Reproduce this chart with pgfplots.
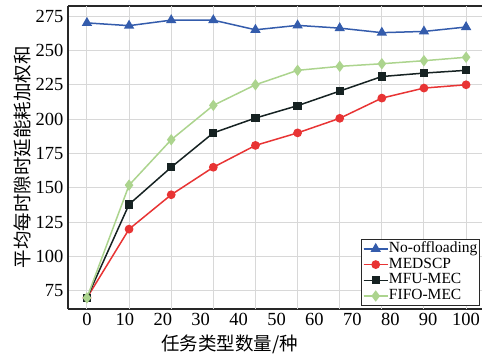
\documentclass[border=0pt]{standalone}
\usepackage{fontspec}
\setmainfont{Liberation Serif}
\newfontfamily\cjk{Noto Sans CJK SC}
\usepackage{pgfplots}
\pgfplotsset{compat=1.18}
\usetikzlibrary{calc}
\definecolor{cblue}{RGB}{52,92,172}
\definecolor{cred}{RGB}{232,52,52}
\definecolor{cblack}{RGB}{22,34,34}
\definecolor{cgreen}{RGB}{172,212,142}
\definecolor{cgrid}{RGB}{216,216,216}
\definecolor{caxis}{RGB}{40,40,40}
\begin{document}
\begin{tikzpicture}
\begin{axis}[
  name=ax,
  scale only axis,
  width=414pt, height=303pt,
  xmin=-5, xmax=104.2,
  ymin=61.9, ymax=282.3,
  axis x line*=box,
  axis y line*=left,
  axis line style={caxis, line width=1.3pt},
  xtick={0,10,...,100},
  ytick={75,100,...,275},
  major tick length=0pt,
  ymajorgrids=true,
  extra x ticks={0,11.11,22.22,33.33,44.44,55.56,66.67,77.78,88.89,100},
  extra x tick labels={},
  extra x tick style={grid=major, major tick length=0pt},
  grid style={cgrid, line width=1pt},
  /pgf/number format/assume math mode=true,
  tick label style={font=\fontsize{18.5}{19}\selectfont},
  xticklabel style={yshift=-1pt},
  yticklabel style={xshift=-1pt},
  xlabel={\cjk 任务类型数量/种},
  xlabel style={font=\fontsize{18.5}{20}\selectfont, at={(axis description cs:0.39,0)}, anchor=north, yshift=-22pt},
  ylabel={\cjk 平均每时隙时延能耗加权和},
  ylabel style={font=\fontsize{18.5}{20}\selectfont, at={(axis description cs:-0.109,0.5)}, anchor=center},
  legend style={at={(axis description cs:0.9952,0.01)}, anchor=south east,
    draw=caxis, line width=1.3pt, font=\fontsize{15.5}{15.5}\selectfont,
    inner sep=1.5pt,
    nodes={inner sep=0.5pt, text height=11pt, text depth=3.7pt}},
  legend cell align=left,
  legend image post style={line width=1.5pt},
  legend image code/.code={\draw[#1] (0pt,0pt) -- (24pt,0pt); \draw[#1, mark repeat=2, mark phase=2] plot coordinates {(0pt,0pt) (12pt,0pt) (24pt,0pt)};},
]
\addplot[cblue, line width=1.5pt, mark=triangle*, mark size=4.5pt, mark options={solid}] coordinates {
(0,270) (11.11,268) (22.22,272) (33.33,272) (44.44,265) (55.56,268.2) (66.67,266.2) (77.78,262.9) (88.89,263.8) (100,267)};
\addlegendentry{No-offloading}
\addplot[cred, line width=1.5pt, mark=*, mark size=3.6pt] coordinates {
(0,70) (11.11,120) (22.22,145) (33.33,165) (44.44,180.9) (55.56,190) (66.67,200.6) (77.78,215.3) (88.89,222.6) (100,225)};
\addlegendentry{MEDSCP}
\addplot[cblack, line width=1.5pt, mark=square*, mark size=3.4pt] coordinates {
(0,70) (11.11,138) (22.22,165) (33.33,190) (44.44,200.8) (55.56,209.8) (66.67,220.4) (77.78,231) (88.89,233.5) (100,235.5)};
\addlegendentry{MFU-MEC}
\addplot[cgreen, line width=1.5pt, mark=diamond*, mark size=4.5pt] coordinates {
(0,70) (11.11,152) (22.22,185) (33.33,210) (44.44,225) (55.56,235.5) (66.67,238.4) (77.78,240.3) (88.89,242.5) (100,245)};
\addlegendentry{FIFO-MEC}
\end{axis}
\pgfresetboundingbox
\path[use as bounding box] ($(ax.south west)+(-68pt,-44pt)$) rectangle ($(ax.north east)+(1pt,6pt)$);
\end{tikzpicture}
\end{document}
